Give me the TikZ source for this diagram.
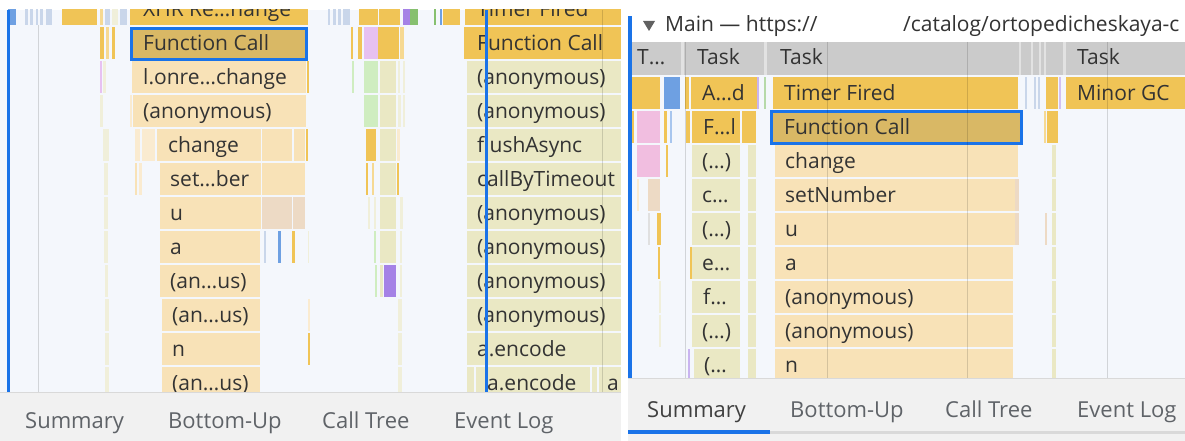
\documentclass[tikz,border=0pt]{standalone}
\usepackage{fontspec}
\setmainfont{Open Sans}
\definecolor{bg}{HTML}{F4F7FC}
\definecolor{yel}{HTML}{F0C456}
\definecolor{yelL}{HTML}{F6D992}
\definecolor{sel}{HTML}{D9B865}
\definecolor{selb}{HTML}{1A73E8}
\definecolor{tan}{HTML}{F8E2B7}
\definecolor{tanL}{HTML}{FAEBD0}
\definecolor{olive}{HTML}{EAE8C4}
\definecolor{oliveL}{HTML}{F0EFDA}
\definecolor{pinkR}{HTML}{F1BEE0}
\definecolor{lav}{HTML}{E7C1F1}
\definecolor{grn}{HTML}{CFEDC0}
\definecolor{grnD}{HTML}{86C06F}
\definecolor{pur}{HTML}{A582E6}
\definecolor{blu}{HTML}{6EA0E2}
\definecolor{bluL}{HTML}{C9D6EA}
\definecolor{grayh}{HTML}{CBCBCB}
\definecolor{grayhL}{HTML}{E2E2E2}
\definecolor{tabbg}{HTML}{F1F1F1}
\definecolor{brn}{HTML}{EDDAC5}
\definecolor{txt}{HTML}{333333}
\definecolor{tabtxt}{HTML}{5F6368}
\newcommand\Lbar[4]{\fill[#4] (#1,{-7+34*#3}) rectangle (#2,{25+34*#3});}
\newcommand\Rbar[4]{\fill[#4] (#1,{43+34*#3}) rectangle (#2,{75+34*#3});}
\newcommand\Ltxt[4]{\node[lbl] (#1) at (#2,{16.5+34*#3}) {#4};}
\newcommand\Rtxt[4]{\node[lbl] (#1) at (#2,{66.5+34*#3}) {#4};}
\begin{document}
\begin{tikzpicture}[x=1pt,y=-1pt,
  lbl/.style={anchor=base west,inner sep=0pt,text=txt,font=\fontsize{21}{21}\selectfont},
  tab/.style={anchor=base west,inner sep=0pt,text=tabtxt,font=\fontsize{22}{22}\selectfont},
  gridline/.style={draw=black,opacity=0.14,line width=1pt},
  selbox/.style={draw=selb,line width=3pt,fill=sel}]
\useasboundingbox (0,0) rectangle (1185,441);
\fill[white] (0,0) rectangle (1185,441);
% ================= LEFT PANEL =================
\fill[bg] (0,10) rectangle (621,392);
\begin{scope}
\clip (0,10) rectangle (621,392);
% row 0
\Lbar{8}{16}{0}{blu}
\Lbar{25}{28}{0}{bluL}\Lbar{30}{33}{0}{bluL}\Lbar{36}{38}{0}{bluL}\Lbar{40}{43}{0}{bluL}\Lbar{46}{52}{0}{bluL}
\Lbar{62}{97}{0}{yel}
\Lbar{100}{103}{0}{yelL}\Lbar{105}{110}{0}{bluL}\Lbar{112}{118}{0}{oliveL}\Lbar{120}{127}{0}{bluL}
\Lbar{130}{308}{0}{yel}
\Ltxt{xhr}{143}{0}{XHR Re…hange}
% row 1
\Lbar{100}{104}{1}{yel}\Lbar{106}{109}{1}{yelL}\Lbar{112}{115}{1}{yel}
\draw[selbox] (131.5,28.5) rectangle (306.5,60);
\Ltxt{fcL}{143}{1}{Function Call}
% row 2
\Lbar{100}{102}{2}{lav}\Lbar{103}{106}{2}{oliveL}\Lbar{132}{306}{2}{tan}\Lbar{307}{309}{2}{yel}
\Ltxt{onre}{143}{2}{l.onre…change}
% row 3
\Lbar{100}{103}{3}{oliveL}\Lbar{130}{132}{3}{tanL}\Lbar{133}{306}{3}{tan}
\Ltxt{anL}{143}{3}{(anonymous)}
% row 4
\Lbar{103}{109}{4}{oliveL}\Lbar{135}{140}{4}{tanL}\Lbar{142}{155}{4}{tanL}\Lbar{157}{261}{4}{tan}\Lbar{262}{292}{4}{tan}\Lbar{294}{305}{4}{tan}\Lbar{306}{308}{4}{yel}
\Ltxt{chL}{168}{4}{change}
% row 5
\Lbar{104}{108}{5}{oliveL}\Lbar{135}{137}{5}{tan}\Lbar{139}{142}{5}{tanL}\Lbar{160}{261}{5}{tan}\Lbar{262}{305}{5}{tan}
\Ltxt{setL}{170}{5}{set…ber}
% row 6
\Lbar{104}{108}{6}{oliveL}\Lbar{160}{261}{6}{tan}\Lbar{262}{292}{6}{brn}\Lbar{293}{305}{6}{brn}
\Ltxt{uL}{170}{6}{u}
% row 7
\Lbar{104}{108}{7}{oliveL}\Lbar{160}{260}{7}{tan}\Lbar{264}{266}{7}{bluL}\Lbar{278}{281}{7}{blu}\Lbar{292}{295}{7}{yel}\Lbar{308}{309}{7}{oliveL}
\Ltxt{aL}{170}{7}{a}
% row 8
\Lbar{105}{108}{8}{oliveL}\Lbar{160}{260}{8}{tan}
\Ltxt{an1L}{170}{8}{(an…us)}
% row 9
\Lbar{105}{109}{9}{oliveL}\Lbar{162}{260}{9}{tan}\Lbar{308}{310}{9}{tanL}
\Ltxt{an2L}{172}{9}{(an…us)}
% row 10
\Lbar{105}{109}{10}{oliveL}\Lbar{162}{260}{10}{tan}\Lbar{308}{310}{10}{yel}
\Ltxt{nL}{172}{10}{n}
% row 11
\Lbar{105}{109}{11}{oliveL}\Lbar{162}{260}{11}{tan}
\Ltxt{an3L}{172}{11}{(an…us)}
% ---- middle column ----
\Lbar{328}{330}{0}{bluL}\Lbar{333}{336}{0}{bluL}\Lbar{338}{341}{0}{bluL}\Lbar{343}{350}{0}{bluL}
\Lbar{359}{378}{0}{yel}\Lbar{379}{400}{0}{yel}\Lbar{403}{410}{0}{pur}\Lbar{410}{418}{0}{grnD}
\Lbar{434}{436}{0}{grnD}\Lbar{440}{442}{0}{blu}\Lbar{443}{460}{0}{yel}\Lbar{465}{621}{0}{yel}
\Ltxt{tfL}{477}{0}{Timer Fired}
\Lbar{351}{353}{1}{yel}\Lbar{358}{362}{1}{yel}\Lbar{364}{378}{1}{lav}\Lbar{378}{399}{1}{yel}\Lbar{400}{404}{1}{yelL}\Lbar{464}{621}{1}{yel}
\Ltxt{fcM}{477}{1}{Function Call}
\Lbar{352}{354}{2}{grn}\Lbar{364}{378}{2}{grn}\Lbar{380}{396}{2}{olive}\Lbar{398}{400}{2}{oliveL}\Lbar{403}{405}{2}{oliveL}\Lbar{467}{621}{2}{olive}
\Ltxt{anM1}{477}{2}{(anonymous)}
\Lbar{364}{378}{3}{grn}\Lbar{380}{396}{3}{olive}\Lbar{398}{401}{3}{oliveL}\Lbar{403}{405}{3}{oliveL}\Lbar{467}{621}{3}{olive}
\Ltxt{anM2}{477}{3}{(anonymous)}
\Lbar{366}{376}{4}{yel}\Lbar{380}{396}{4}{olive}\Lbar{397}{400}{4}{tanL}\Lbar{467}{621}{4}{olive}
\Ltxt{flush}{477}{4}{flushAsync}
\Lbar{366}{368}{5}{yel}\Lbar{372}{374}{5}{yelL}\Lbar{380}{396}{5}{olive}\Lbar{397}{399}{5}{yel}\Lbar{467}{621}{5}{olive}
\Ltxt{cbt}{477}{5}{callByTimeout}
\Lbar{368}{370}{6}{oliveL}\Lbar{374}{376}{6}{oliveL}\Lbar{380}{396}{6}{olive}\Lbar{400}{403}{6}{oliveL}\Lbar{467}{621}{6}{olive}
\Ltxt{anM3}{477}{6}{(anonymous)}
\Lbar{374}{376}{7}{grn}\Lbar{380}{396}{7}{olive}\Lbar{400}{402}{7}{oliveL}\Lbar{467}{621}{7}{olive}
\Ltxt{anM4}{477}{7}{(anonymous)}
\Lbar{375}{377}{8}{grn}\Lbar{380}{383}{8}{olive}\Lbar{384}{396}{8}{pur}\Lbar{400}{402}{8}{oliveL}\Lbar{467}{621}{8}{olive}
\Ltxt{anM5}{477}{8}{(anonymous)}
\Lbar{398}{402}{9}{oliveL}\Lbar{467}{621}{9}{olive}
\Ltxt{anM6}{477}{9}{(anonymous)}
\Lbar{398}{402}{10}{oliveL}\Lbar{467}{621}{10}{olive}
\Ltxt{enc1}{477}{10}{a.encode}
\Lbar{398}{402}{11}{oliveL}\Lbar{467}{621}{11}{olive}
\Lbar{474}{476}{11}{bg}\Lbar{590}{592}{11}{bg}\Lbar{597}{599}{11}{bg}
\Ltxt{enc2}{487}{11}{a.encode}
\Ltxt{aM}{607}{11}{a}
% grid and markers
\draw[gridline] (38,25) -- (38,392);
\draw[gridline] (602,10) -- (602,392);
\fill[selb] (485,10) rectangle (488,392);
\end{scope}
\fill[selb] (7,10) rectangle (10,392);
% tab bar left
\fill[tabbg] (0,392) rectangle (621,441);
\draw[black!15,line width=1pt] (0,392.5) -- (621,392.5);
\node[tab] (sumL) at (25,428) {Summary};
\node[tab] (buL) at (168,428) {Bottom-Up};
\node[tab] (ctL) at (322,428) {Call Tree};
\node[tab] (elL) at (454,428) {Event Log};
% ================= RIGHT PANEL =================
\fill[bg] (632,42) rectangle (1185,378);
\fill[black!62] (643,21) -- (655,21) -- (649,31) -- cycle;
\node[lbl] (main) at (665,31.5) {Main — https://};
\node[lbl] (url) at (903,31.5) {/catalog/ortopedicheskaya-c};
\begin{scope}
\clip (632,42) rectangle (1185,378);
% header row
\fill[grayh] (632,42) rectangle (1185,75);
\fill[grayhL] (681,42) rectangle (684,75);
\fill[grayhL] (764,42) rectangle (767,75);
\fill[grayhL] (1019,42) rectangle (1021,75);\fill[grayhL] (1031,42) rectangle (1033,75);
\fill[grayhL] (1039,42) rectangle (1041,75);\fill[grayhL] (1044,42) rectangle (1046,75);
\fill[grayhL] (1063,42) rectangle (1066,75);
\node[lbl] (h1) at (637,65) {T…};
\node[lbl] (h2) at (697,65) {Task};
\node[lbl] (h3) at (780,65) {Task};
\node[lbl] (h4) at (1077,65) {Task};
% row 1
\Rbar{632}{660}{1}{yel}\Rbar{664}{680}{1}{blu}\Rbar{685}{689}{1}{yel}\Rbar{691}{757}{1}{yel}\Rbar{757}{759}{1}{pur!60}\Rbar{764}{766}{1}{grnD!60}
\Rbar{773}{1018}{1}{yel}\Rbar{1025}{1027}{1}{bluL}\Rbar{1034}{1036}{1}{bluL}\Rbar{1038}{1040}{1}{bluL}\Rbar{1046}{1058}{1}{yel}\Rbar{1059}{1061}{1}{pur!50}\Rbar{1066}{1185}{1}{yel}
\Rtxt{ad}{702}{1}{A…d}
\Rtxt{tfR}{784}{1}{Timer Fired}
\Rtxt{gc}{1077}{1}{Minor GC}
% row 2
\Rbar{632}{634}{2}{yel}\Rbar{637}{660}{2}{pinkR}\Rbar{664}{667}{2}{yel}\Rbar{670}{672}{2}{blu!60}\Rbar{686}{690}{2}{yel}\Rbar{692}{740}{2}{yel}\Rbar{742}{756}{2}{yel}\Rbar{1044}{1046}{2}{yelL}\Rbar{1047}{1058}{2}{yel}
\draw[selbox] (771.5,111.5) rectangle (1021.5,143.5);
\Rtxt{fl}{703}{2}{F…l}
\Rtxt{fcR}{784}{2}{Function Call}
% row 3
\Rbar{637}{660}{3}{pinkR}\Rbar{666}{668}{3}{yel}\Rbar{692}{740}{3}{olive}\Rbar{748}{756}{3}{olive}\Rbar{775}{1018}{3}{tan}\Rbar{1052}{1056}{3}{olive}
\Rtxt{p1}{702}{3}{(…)}
\Rtxt{chR}{785}{3}{change}
% row 4
\Rbar{637}{639}{4}{tanL}\Rbar{648}{660}{4}{brn}\Rbar{692}{740}{4}{olive}\Rbar{748}{756}{4}{olive}\Rbar{775}{1015}{4}{tan}\Rbar{1015}{1019}{4}{brn}\Rbar{1052}{1056}{4}{olive}
\Rtxt{c1}{702}{4}{c…}
\Rtxt{setR}{785}{4}{setNumber}
% row 5
\Rbar{648}{650}{5}{black!12}\Rbar{657}{661}{5}{yel}\Rbar{692}{740}{5}{olive}\Rbar{748}{756}{5}{olive}\Rbar{775}{1015}{5}{tan}\Rbar{1015}{1019}{5}{brn}\Rbar{1045}{1047}{5}{brn}\Rbar{1052}{1056}{5}{olive}
\Rtxt{p2}{702}{5}{(…)}
\Rtxt{uR}{785}{5}{u}
% row 6
\Rbar{658}{660}{6}{yel}\Rbar{690}{692}{6}{yel}\Rbar{692}{740}{6}{olive}\Rbar{748}{756}{6}{olive}\Rbar{775}{1013}{6}{tan}\Rbar{1052}{1056}{6}{olive}
\Rtxt{e1}{702}{6}{e…}
\Rtxt{aR}{785}{6}{a}
% row 7
\Rbar{659}{661}{7}{oliveL}\Rbar{692}{740}{7}{olive}\Rbar{748}{756}{7}{olive}\Rbar{775}{1013}{7}{tan}\Rbar{1052}{1056}{7}{olive}
\Rtxt{f1}{703}{7}{f…}
\Rtxt{anR1}{785}{7}{(anonymous)}
% row 8
\Rbar{659}{661}{8}{oliveL}\Rbar{692}{740}{8}{olive}\Rbar{748}{756}{8}{olive}\Rbar{775}{1013}{8}{tan}\Rbar{1052}{1056}{8}{olive}
\Rtxt{p3}{702}{8}{(…)}
\Rtxt{anR2}{785}{8}{(anonymous)}
% row 9
\Rbar{688}{690}{9}{pur!60}\Rbar{694}{740}{9}{olive}\Rbar{748}{756}{9}{olive}\Rbar{775}{1013}{9}{tan}\Rbar{1052}{1056}{9}{olive}
\Rtxt{p4}{704}{9}{(…}
\Rtxt{nR}{785}{9}{n}
% grid lines
\draw[gridline] (685,42) -- (685,378);
\draw[gridline] (827,42) -- (827,378);
\draw[gridline] (967,42) -- (967,378);
\draw[gridline] (1107,42) -- (1107,378);
\end{scope}
\fill[selb] (628,16) rectangle (632,378);
% tab bar right
\fill[tabbg] (628,378) rectangle (1185,441);
\draw[black!15,line width=1pt] (628,378.5) -- (1185,378.5);
\fill[black!15] (770,431) rectangle (1185,434);
\fill[selb] (628,430) rectangle (770,434);
\node[tab,text=black!75] (sumR) at (647,417) {Summary};
\node[tab] (buR) at (790,417) {Bottom-Up};
\node[tab] (ctR) at (945,417) {Call Tree};
\node[tab] (elR) at (1077,417) {Event Log};
\end{tikzpicture}
\end{document}
